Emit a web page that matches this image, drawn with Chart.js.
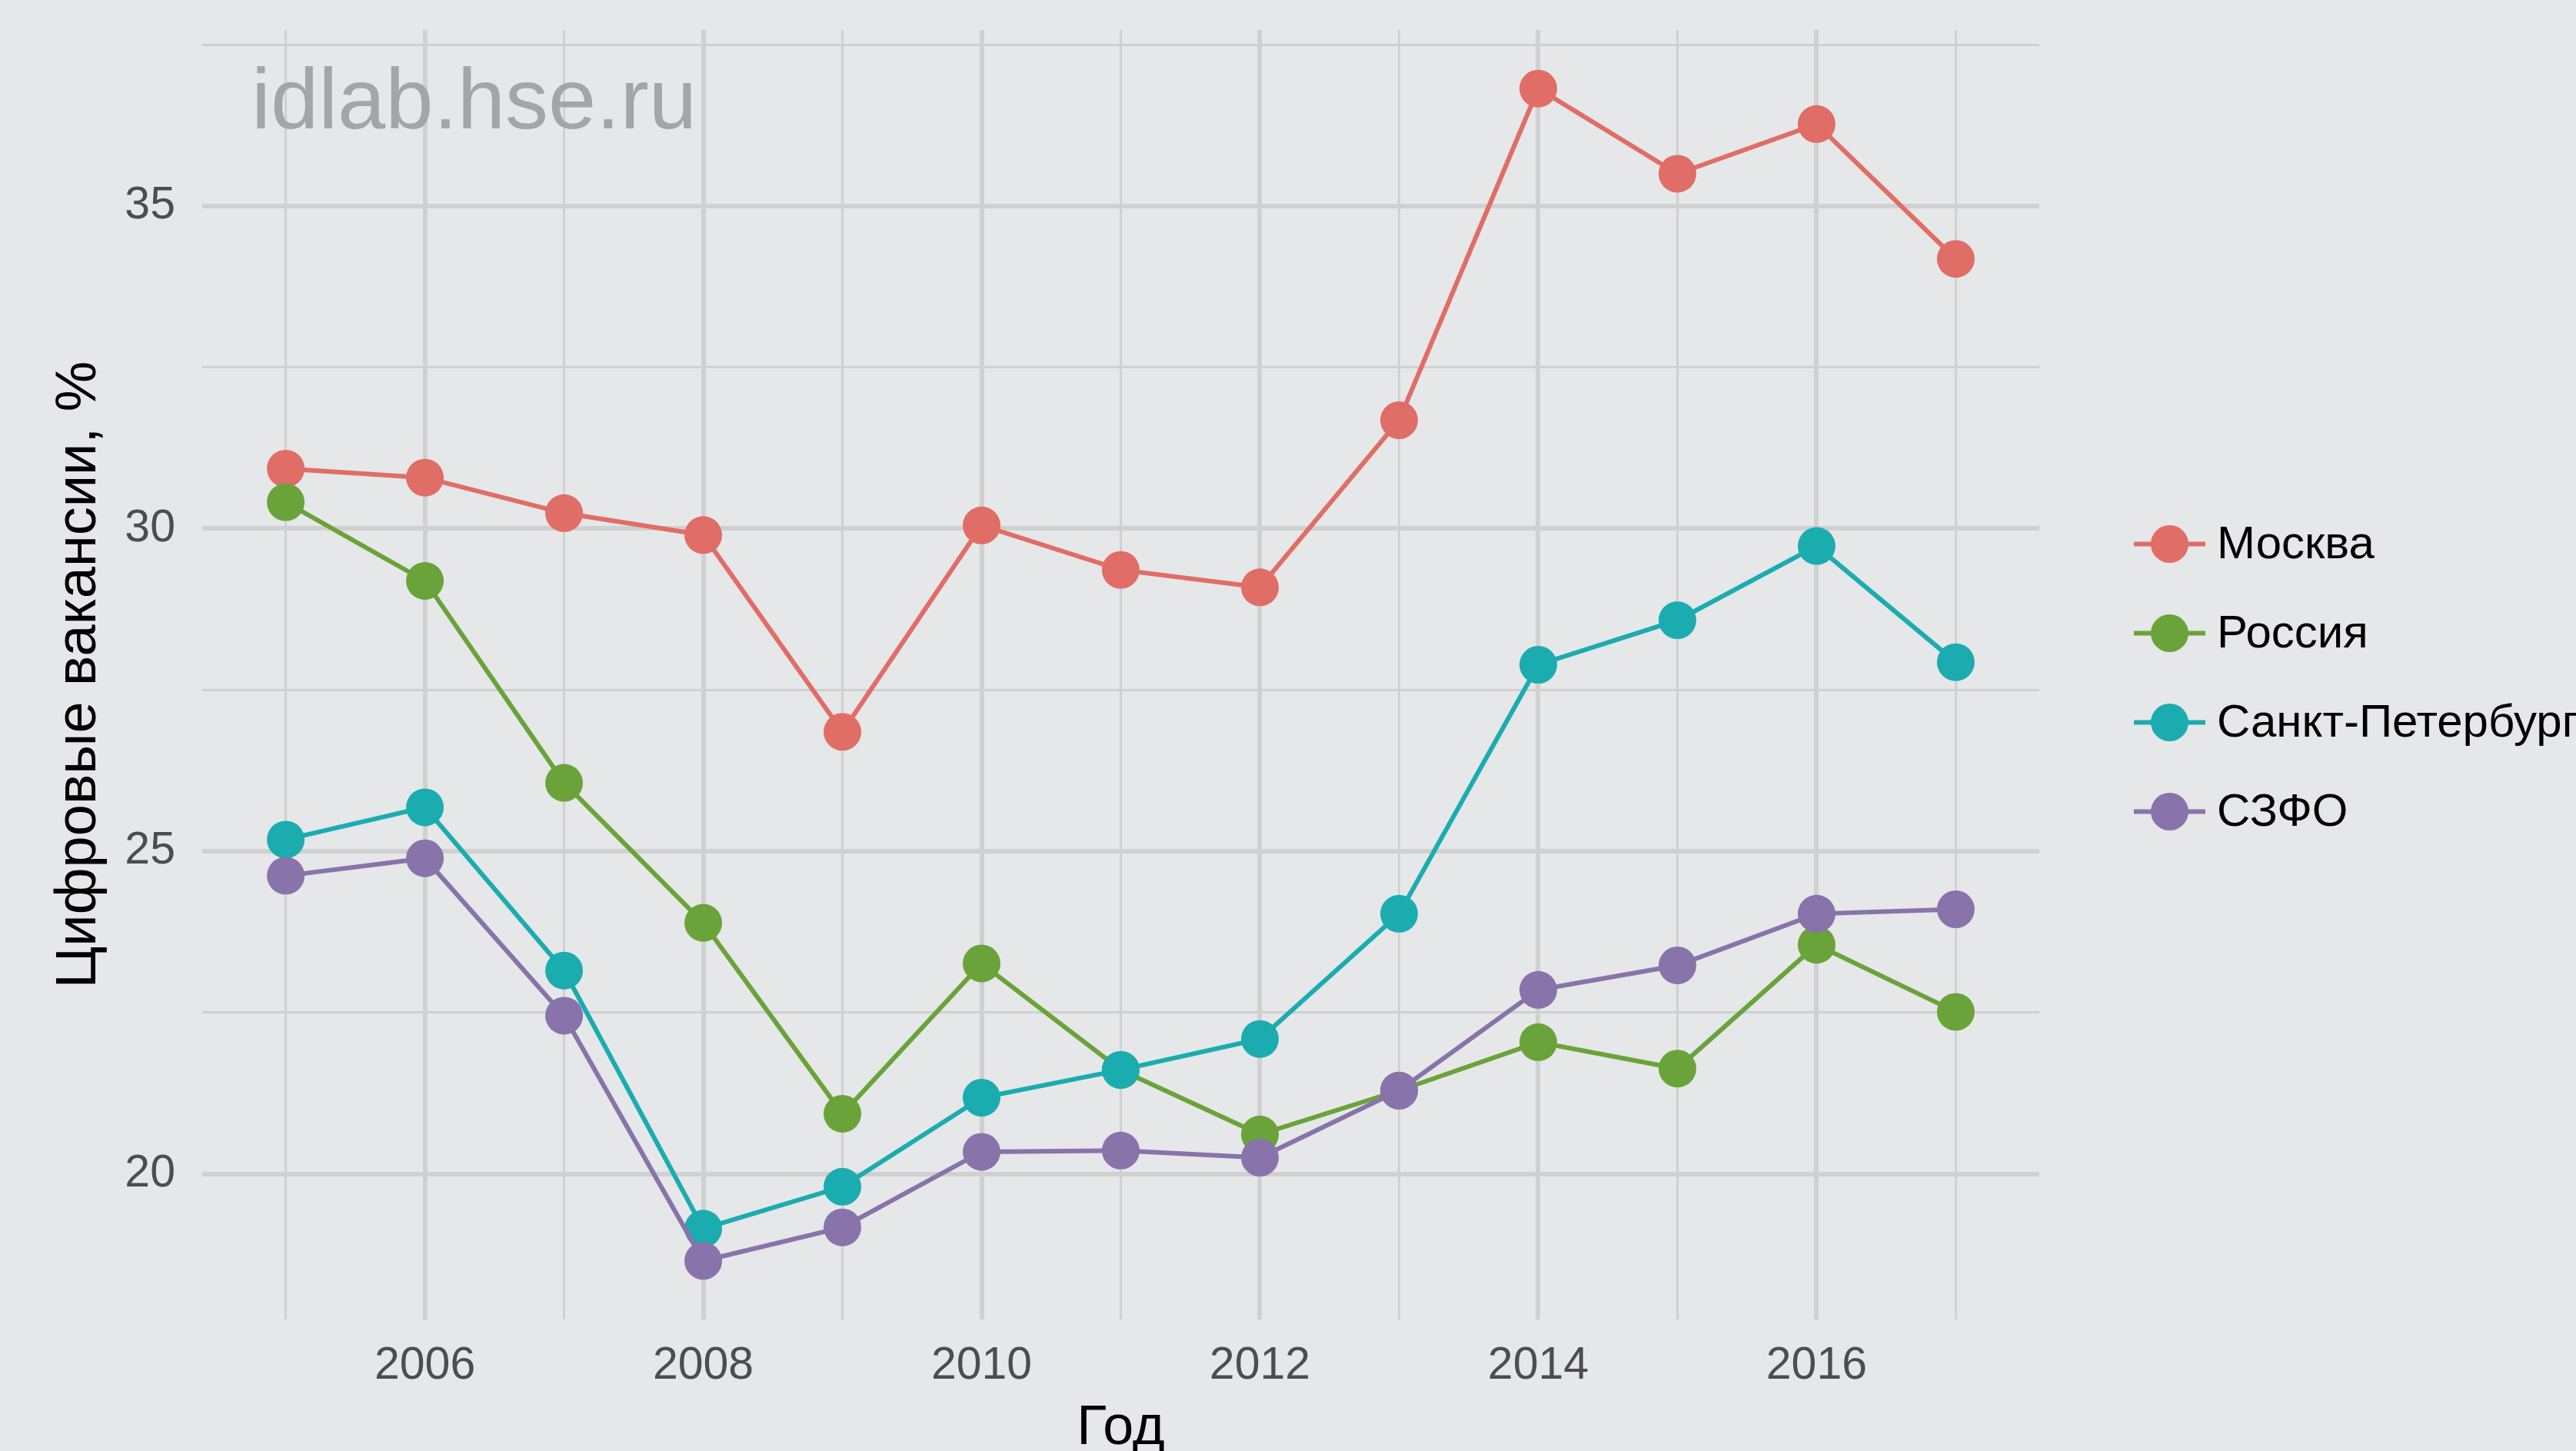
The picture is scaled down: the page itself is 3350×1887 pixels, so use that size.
<!DOCTYPE html>
<html><head><meta charset="utf-8">
<script src="https://cdn.jsdelivr.net/npm/chart.js@4.4.1/dist/chart.umd.min.js"></script>
<style>html,body{margin:0;padding:0;background:#E6E7E8;overflow:hidden}canvas{display:block}</style>
</head><body>
<canvas id="c" width="3350" height="1887"></canvas>
<script>
// ---- data ----
const years = [2005,2006,2007,2008,2009,2010,2011,2012,2013,2014,2015,2016,2017];
const seriesNames = ['Москва','Россия','Санкт-Петербург','СЗФО'];
const moscow = [30.93,30.79,30.24,29.90,26.85,30.05,29.36,29.09,31.68,36.82,35.50,36.27,34.18];
const russia = [30.41,29.19,26.06,23.89,20.93,23.26,21.61,20.61,21.29,22.04,21.63,23.55,22.51];
const spb    = [25.18,25.68,23.15,19.15,19.80,21.18,21.61,22.09,24.03,27.89,28.58,29.73,27.93];
const szfo   = [24.62,24.89,22.45,18.65,19.17,20.34,20.36,20.25,21.29,22.85,23.23,24.03,24.10];
const seriesColors = ['#E06D66','#6AA33A','#1BACB0','#8873AB'];
const xMajorTicks = [2006,2008,2010,2012,2014,2016];
const xMinorTicks = [2005,2007,2009,2011,2013,2015,2017];
const yMajorTicks = [20,25,30,35];
const yMinorTicks = [22.5,27.5,32.5,37.5];
const xTitle = 'Год';
const yTitle = 'Цифровые вакансии, %';
const watermark = 'idlab.hse.ru';

const allSeries = [moscow, russia, spb, szfo];
const FONT = "'Liberation Sans', Arial, sans-serif";
const BG = '#E6E7E8', GRID = '#CFD0D0';

// ggplot-like 5% expansion
const allVals = allSeries.flat();
const yMin0 = Math.min(...allVals), yMax0 = Math.max(...allVals);
const ySpan = yMax0 - yMin0;
const xMin0 = Math.min(...years), xMax0 = Math.max(...years);
const xSpan = xMax0 - xMin0;

const datasets = allSeries.map((vals, i) => ({
  label: seriesNames[i],
  data: years.map((y, j) => ({x: y, y: vals[j]})),
  borderColor: seriesColors[i],
  backgroundColor: seriesColors[i],
  pointBackgroundColor: seriesColors[i],
  pointBorderWidth: 0,
  pointRadius: 24.5,
  pointHoverRadius: 24.5,
  borderWidth: 6,
  tension: 0,
  order: allSeries.length - i
}));

const isMajor = (v, list) => list.some(t => Math.abs(t - v) < 1e-9);

const extras = {
  id: 'extras',
  beforeDraw(chart) {
    const ctx = chart.ctx;
    ctx.save();
    ctx.fillStyle = BG;
    ctx.fillRect(0, 0, chart.width, chart.height);
    ctx.restore();
  },
  beforeDatasetsDraw(chart) {
    const {ctx, chartArea} = chart;
    ctx.save();
    ctx.fillStyle = '#A3A6A8';
    ctx.font = `112px ${FONT}`;
    ctx.textBaseline = 'alphabetic';
    ctx.textAlign = 'left';
    ctx.fillText(watermark, chartArea.left + 64, chartArea.top + 128);
    ctx.restore();
  },
  afterDraw(chart) {
    const {ctx, chartArea} = chart;
    ctx.save();
    const x0 = chartArea.right + 123;
    const yc = (chartArea.top + chartArea.bottom) / 2 + 4;
    const step = 116;
    const n = chart.data.datasets.length;
    chart.data.datasets.forEach((ds, i) => {
      const y = yc + (i - (n - 1) / 2) * step;
      ctx.strokeStyle = ds.borderColor;
      ctx.lineWidth = 6;
      ctx.beginPath();
      ctx.moveTo(x0, y);
      ctx.lineTo(x0 + 93, y);
      ctx.stroke();
      ctx.fillStyle = ds.borderColor;
      ctx.beginPath();
      ctx.arc(x0 + 46.5, y, 24.5, 0, Math.PI * 2);
      ctx.fill();
      ctx.fillStyle = '#000000';
      ctx.font = `60px ${FONT}`;
      ctx.textBaseline = 'middle';
      ctx.textAlign = 'left';
      ctx.fillText(ds.label, x0 + 108, y + 2);
    });
    ctx.restore();
  }
};

new Chart(document.getElementById('c'), {
  type: 'line',
  data: { datasets },
  plugins: [extras],
  options: {
    responsive: false,
    devicePixelRatio: 1,
    animation: false,
    events: [],
    layout: { padding: { top: 39, right: 698, left: 0, bottom: 0 } },
    plugins: { legend: { display: false }, tooltip: { enabled: false } },
    scales: {
      x: {
        type: 'linear',
        min: xMin0 - 0.05 * xSpan,
        max: xMax0 + 0.05 * xSpan,
        afterBuildTicks: s => { s.ticks = [...xMajorTicks, ...xMinorTicks].sort((a,b)=>a-b).map(v => ({value: v})); },
        afterFit: s => { s.height = 171; s.paddingLeft = 0; s.paddingRight = 0; },
        border: { display: false },
        grid: {
          color: GRID,
          lineWidth: c => isMajor(c.tick.value, xMajorTicks) ? 6 : 3,
          drawTicks: false
        },
        ticks: {
          autoSkip: false,
          maxRotation: 0,
          padding: 25,
          color: '#4D4D4D',
          font: { family: FONT, size: 59 },
          callback: v => isMajor(v, xMajorTicks) ? String(v) : ''
        },
        title: {
          display: true, text: xTitle, color: '#000000',
          font: { family: FONT, size: 72, lineHeight: 0.8 },
          padding: { top: 0, bottom: 0 }
        }
      },
      y: {
        type: 'linear',
        min: yMin0 - 0.05 * ySpan,
        max: yMax0 + 0.05 * ySpan,
        afterBuildTicks: s => { s.ticks = [...yMajorTicks, ...yMinorTicks].sort((a,b)=>a-b).map(v => ({value: v})); },
        afterFit: s => { s.width = 263; s.paddingTop = 0; s.paddingBottom = 0; },
        border: { display: false },
        grid: {
          color: GRID,
          lineWidth: c => isMajor(c.tick.value, yMajorTicks) ? 6 : 3,
          drawTicks: false
        },
        ticks: {
          autoSkip: false,
          padding: 35,
          color: '#4D4D4D',
          font: { family: FONT, size: 59 },
          callback: v => isMajor(v, yMajorTicks) ? String(v) : ''
        },
        title: {
          display: true, text: yTitle, color: '#000000',
          font: { family: FONT, size: 74, lineHeight: 1.2 },
          padding: { top: 59, bottom: 0 }
        }
      }
    }
  }
});
</script>
</body></html>
